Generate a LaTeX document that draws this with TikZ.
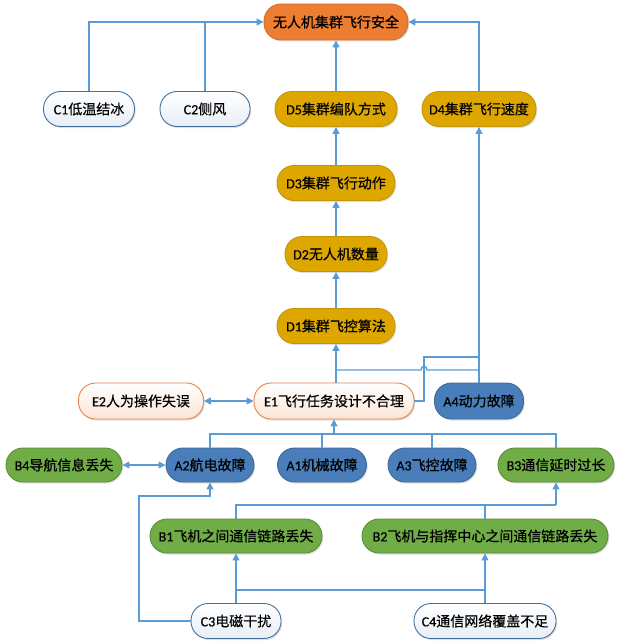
\documentclass[tikz,border=0pt]{standalone}
\usepackage{fontspec}
\setmainfont{Carlito}[FakeBold=0.6]
\newfontfamily\cjk{Noto Sans CJK SC}[FakeBold=0.6]
\usetikzlibrary{arrows.meta,shadows}
\newcommand\mytx[2]{#1{\cjk #2}}
\definecolor{lnc}{RGB}{91,155,213}
\definecolor{orf}{RGB}{237,125,49}
\definecolor{ord}{RGB}{210,110,45}
\definecolor{gdf}{RGB}{222,167,0}
\definecolor{gdd}{RGB}{196,148,10}
\definecolor{blf}{RGB}{74,126,187}
\definecolor{bld}{RGB}{60,104,156}
\definecolor{grf}{RGB}{112,173,71}
\definecolor{grd}{RGB}{92,140,58}
\definecolor{cbd}{RGB}{65,113,156}
\definecolor{cbf}{RGB}{232,238,246}
\definecolor{epf}{RGB}{251,229,214}
\definecolor{epd}{RGB}{230,130,70}
\tikzset{
  box/.style={rectangle, rounded corners=17pt, minimum height=35pt, inner sep=0pt, font=\fontsize{14}{16}\selectfont, text=black, line width=0.9pt,
    drop shadow={shadow xshift=1.2pt, shadow yshift=-1.5pt, opacity=0.25}},
  tnode/.style={box, fill=orf, draw=ord, minimum height=36pt},
  dnode/.style={box, fill=gdf, draw=gdd},
  cnode/.style={box, top color=white, bottom color=cbf, draw=cbd},
  enode/.style={box, top color=white, bottom color=epf, draw=epd, minimum height=36pt},
  anode/.style={box, fill=blf, draw=bld, minimum height=34pt},
  bnode/.style={box, fill=grf, draw=grd, minimum height=34pt},
  ln/.style={draw=lnc, line width=1.3pt},
  arr/.style={ln, -{Triangle[length=7pt,width=7pt]}},
  darr/.style={ln, {Triangle[length=7pt,width=7pt]}-{Triangle[length=7pt,width=7pt]}},
}
\begin{document}
\begin{tikzpicture}[x=1pt,y=-1pt]
\useasboundingbox (0,0) rectangle (618,642);
% nodes
\node[tnode, minimum width=144pt] (T) at (336,22) {\cjk 无人机集群飞行安全};
\node[cnode, minimum width=91pt] (C1) at (89,109) {\mytx{C1}{低温结冰}};
\node[cnode, minimum width=90pt] (C2) at (205,109) {\mytx{C2}{侧风}};
\node[dnode, minimum width=122pt] (D5) at (336,109) {\mytx{D5}{集群编队方式}};
\node[dnode, minimum width=114pt] (D4) at (479,109) {\mytx{D4}{集群飞行速度}};
\node[dnode, minimum width=118pt] (D3) at (336,183) {\mytx{D3}{集群飞行动作}};
\node[dnode, minimum width=102pt] (D2) at (336,254) {\mytx{D2}{无人机数量}};
\node[dnode, minimum width=118pt] (D1) at (336,326) {\mytx{D1}{集群飞控算法}};
\node[enode, minimum width=125pt] (E2) at (141,401) {\mytx{E2}{人为操作失误}};
\node[enode, minimum width=160pt] (E1) at (334,401) {\mytx{E1}{飞行任务设计不合理}};
\node[anode, minimum width=89pt, minimum height=36pt] (A4) at (479,401) {\mytx{A4}{动力故障}};
\node[bnode, minimum width=116pt] (B4) at (64,465) {\mytx{B4}{导航信息丢失}};
\node[anode, minimum width=88pt] (A2) at (210,465) {\mytx{A2}{航电故障}};
\node[anode, minimum width=89pt] (A1) at (322,465) {\mytx{A1}{机械故障}};
\node[anode, minimum width=88pt] (A3) at (432,465) {\mytx{A3}{飞控故障}};
\node[bnode, minimum width=116pt] (B3) at (556,465) {\mytx{B3}{通信延时过长}};
\node[bnode, minimum width=172pt] (B1) at (236,536) {\mytx{B1}{飞机之间通信链路丢失}};
\node[bnode, minimum width=246pt] (B2) at (485,536) {\mytx{B2}{飞机与指挥中心之间通信链路丢失}};
\node[cnode, minimum width=90pt] (C3) at (236,621) {\mytx{C3}{电磁干扰}};
\node[cnode, minimum width=142pt] (C4) at (485,621) {\mytx{C4}{通信网络覆盖不足}};
% coordinates
\coordinate (hA) at (0,434);
\coordinate (hB) at (0,505);
\coordinate (hC) at (0,590);
\coordinate (hL) at (139,496);
\coordinate (hM) at (0,370);
\coordinate (hN) at (424,357);
% top connectors
\draw[arr] (C1.north) |- (T.west);
\draw[ln] (C2.north) -- (C2.north |- T.west);
\draw[arr] (D4.north) |- (T.east);
\draw[arr] (D5.north) -- (T.south);
\draw[arr] (D3.north) -- (D5.south);
\draw[arr] (D2.north) -- (D3.south);
\draw[arr] (D1.north) -- (D2.south);
% E1 / A4 region
\draw[arr] (E1.north -| D1.south) -- (D1.south);
\draw[arr] (A4.north) -- (D4.south);
\draw[ln] (A4.north |- hM) -- (427,370) .. controls (427,365) and (421,365) .. (421,370) -- (D1.south |- hM);
\draw[ln] (E1.east) -| (hN) -- (hN -| A4.north);
\draw[darr] (E2.east) -- (E1.west);
% row A
\draw[ln] (A2.north) -- (A2.north |- hA) -- (B3.north |- hA) -- (B3.north);
\draw[ln] (A1.north) -- (A1.north |- hA);
\draw[ln] (A3.north) -- (A3.north |- hA);
\draw[arr] (E1.south |- hA) -- (E1.south);
\draw[darr] (B4.east) -- (A2.west);
% row B
\draw[ln] (B1.north) -- (B1.north |- hB) -- (B3.south |- hB);
\draw[arr] (B3.south |- hB) -- (B3.south);
\draw[ln] (B2.north) -- (B2.north |- hB);
% row C
\draw[arr] (C3.west) -| (hL) -| (A2.south);
\draw[arr] (C3.north) -- (B1.south);
\draw[arr] (C4.north) -- (B2.south);
\draw[ln] (C3.north |- hC) -- (C4.north |- hC);
\end{tikzpicture}
\end{document}
